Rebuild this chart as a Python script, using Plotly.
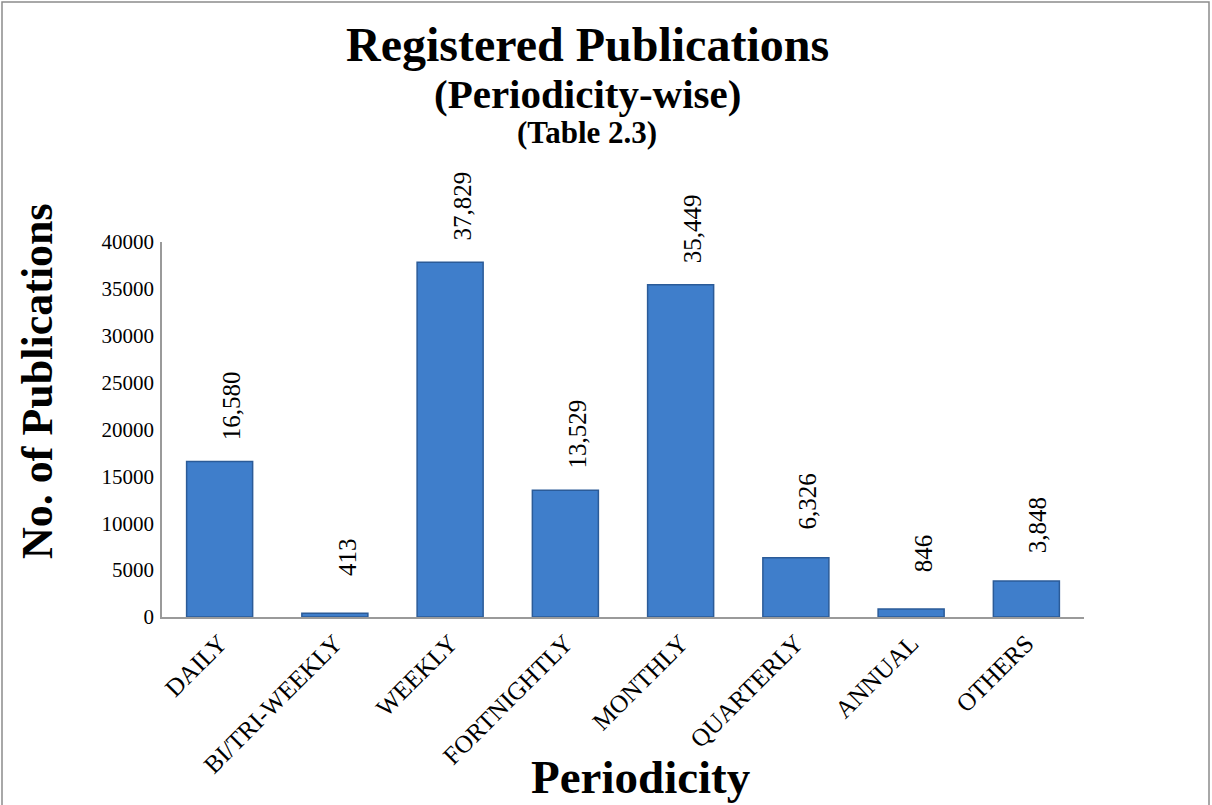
import plotly.graph_objects as go

# ---- data ----
categories = ["DAILY", "BI/TRI-WEEKLY", "WEEKLY", "FORTNIGHTLY", "MONTHLY",
              "QUARTERLY", "ANNUAL", "OTHERS"]
publications = [16580, 413, 37829, 13529, 35449, 6326, 846, 3848]
y_ticks = [0, 5000, 10000, 15000, 20000, 25000, 30000, 35000, 40000]

title_lines = ["Registered Publications", "(Periodicity-wise)", "(Table 2.3)"]
x_title = "Periodicity"
y_title = "No. of Publications"

# ---- layout geometry ----
W, H = 1212, 805
M_L, M_R, M_T, M_B = 162, 128, 242, 188
FONT = "Liberation Serif, Times New Roman, serif"


def px_x(x):
    return (x - M_L) / (W - M_L - M_R)


def px_y(y):
    return (H - M_B - y) / (H - M_T - M_B)


fig = go.Figure()
fig.add_trace(go.Bar(
    x=categories,
    y=publications,
    marker=dict(color="#3f7ecb", line=dict(color="#2b5b98", width=1.5)),
    hoverinfo="x+y",
))

annotations = []
for cat, val in zip(categories, publications):
    annotations.append(dict(
        x=cat, y=val, xref="x", yref="y",
        text=f"{val:,}", textangle=-90, showarrow=False,
        xanchor="center", yanchor="middle", yshift=56, xshift=12,
        font=dict(family=FONT, size=25, color="#000000"),
    ))

# titles
title_specs = [(title_lines[0], 48, 45), (title_lines[1], 41, 94), (title_lines[2], 31, 132)]
for txt, size, yc in title_specs:
    annotations.append(dict(
        x=px_x(587), y=px_y(yc), xref="paper", yref="paper",
        text=f"<b>{txt}</b>", showarrow=False,
        xanchor="center", yanchor="middle",
        font=dict(family=FONT, size=size, color="#000000"),
    ))

annotations.append(dict(
    x=px_x(641), y=px_y(777), xref="paper", yref="paper",
    text=f"<b>{x_title}</b>", showarrow=False,
    xanchor="center", yanchor="middle",
    font=dict(family=FONT, size=47, color="#000000"),
))
annotations.append(dict(
    x=px_x(37), y=px_y(381), xref="paper", yref="paper",
    text=f"<b>{y_title}</b>", showarrow=False, textangle=-90,
    xanchor="center", yanchor="middle",
    font=dict(family=FONT, size=44, color="#000000"),
))

# outer frame
shapes = [dict(
    type="rect", xref="paper", yref="paper",
    x0=px_x(2), x1=px_x(1209), y0=px_y(H + 5), y1=px_y(2),
    line=dict(color="#8c8c8c", width=1.5), fillcolor="rgba(0,0,0,0)",
    layer="below",
)]

fig.update_layout(
    width=W, height=H,
    margin=dict(l=M_L, r=M_R, t=M_T, b=M_B, autoexpand=False),
    paper_bgcolor="#ffffff", plot_bgcolor="#ffffff",
    bargap=0.427,
    showlegend=False,
    annotations=annotations,
    shapes=shapes,
    font=dict(family=FONT, color="#000000"),
)
fig.update_xaxes(
    type="category",
    showline=True, linecolor="#9a9a9a", linewidth=1.5,
    showgrid=False, zeroline=False, ticks="",
    tickangle=-45, tickfont=dict(family=FONT, size=25, color="#000000"),
)
fig.update_yaxes(
    range=[0, 40000], tickvals=y_ticks, ticktext=[str(v) for v in y_ticks],
    showline=True, linecolor="#9a9a9a", linewidth=1.5,
    showgrid=False, zeroline=False, ticks="",
    ticklabelstandoff=2,
    tickfont=dict(family=FONT, size=21, color="#000000"),
)

fig.write_html(
    "out.html",
    config={"displayModeBar": False},
    post_script="document.body.style.margin='0';document.body.style.overflow='hidden';",
)
